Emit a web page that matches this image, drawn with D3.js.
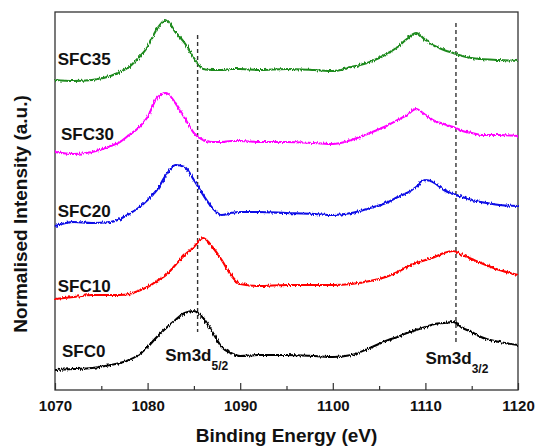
<!DOCTYPE html>
<html>
<head>
<meta charset="utf-8">
<script src="https://cdn.jsdelivr.net/npm/d3@7"></script>
<style>
  body { margin: 0; background: #fff; }
  svg text { font-family: Arial, "Liberation Sans", sans-serif; font-weight: bold; fill: #111; }
</style>
</head>
<body>
<svg width="536" height="446"></svg>
<script>
// binding energy (eV), shared by all spectra
const energy = [1070, 1072, 1074, 1076, 1077, 1078, 1079, 1080, 1081, 1082, 1083, 1084, 1085, 1086, 1087, 1088, 1089, 1090, 1092, 1095,
    1098, 1100, 1102, 1104, 1106, 1107, 1108, 1109, 1110, 1111, 1112, 1113, 1114, 1115, 1116, 1118, 1120];

// normalised intensity (a.u.), already stacked
const sfc0 = [0.20, 0.21, 0.22, 0.25, 0.27, 0.30, 0.35, 0.43, 0.53, 0.62, 0.70, 0.77, 0.79, 0.72, 0.58, 0.43, 0.37, 0.34, 0.35, 0.35,
    0.34, 0.33, 0.35, 0.42, 0.50, 0.53, 0.57, 0.60, 0.63, 0.66, 0.67, 0.68, 0.62, 0.58, 0.53, 0.48, 0.45];
const sfc10 = [0.91, 0.93, 0.95, 0.95, 0.95, 0.96, 0.99, 1.03, 1.09, 1.15, 1.25, 1.35, 1.43, 1.52, 1.43, 1.30, 1.15, 1.06, 1.04, 1.05,
    1.05, 1.05, 1.06, 1.09, 1.14, 1.18, 1.23, 1.27, 1.30, 1.33, 1.37, 1.39, 1.35, 1.31, 1.27, 1.20, 1.15];
const sfc20 = [1.64, 1.68, 1.67, 1.68, 1.71, 1.76, 1.82, 1.90, 2.00, 2.15, 2.25, 2.23, 2.10, 1.95, 1.82, 1.75, 1.77, 1.78, 1.78, 1.77,
    1.76, 1.75, 1.77, 1.82, 1.88, 1.93, 1.97, 2.03, 2.10, 2.07, 2.00, 1.96, 1.93, 1.90, 1.88, 1.85, 1.84];
const sfc30 = [2.38, 2.36, 2.38, 2.44, 2.48, 2.55, 2.62, 2.73, 2.92, 2.97, 2.87, 2.72, 2.57, 2.50, 2.48, 2.48, 2.49, 2.49, 2.48, 2.48,
    2.47, 2.46, 2.50, 2.57, 2.65, 2.70, 2.75, 2.81, 2.75, 2.69, 2.66, 2.63, 2.59, 2.57, 2.55, 2.55, 2.54];
const sfc35 = [3.10, 3.09, 3.10, 3.14, 3.18, 3.23, 3.32, 3.43, 3.61, 3.70, 3.58, 3.47, 3.32, 3.21, 3.20, 3.20, 3.21, 3.21, 3.20, 3.21,
    3.20, 3.19, 3.23, 3.28, 3.37, 3.43, 3.51, 3.57, 3.50, 3.44, 3.40, 3.37, 3.34, 3.32, 3.31, 3.30, 3.29];

const samples = ['SFC0', 'SFC10', 'SFC20', 'SFC30', 'SFC35'];
const spectra = [sfc0, sfc10, sfc20, sfc30, sfc35];
const colors = ['#000000', '#ff0000', '#0a0ae6', '#ff00ff', '#1f8a1f'];

const majorTicks = [1070, 1080, 1090, 1100, 1110, 1120];
const minorTicks = [1075, 1085, 1095, 1105, 1115];

// Sm3d peak guides: energy, top and bottom intensity
const peakEnergy = [1085.4, 1113.3];
const peakTop = [3.55, 3.67];
const peakBottom = [0.58, 0.48];
const peakNames = ['5/2', '3/2'];

const margin = { top: 12, right: 18, bottom: 56, left: 55 };
const width = 536 - margin.left - margin.right;
const height = 446 - margin.top - margin.bottom;

const svg = d3.select('svg');

// measurement noise look (rendering filter only, data stays as read)
const noise = svg.append('defs').append('filter')
    .attr('id', 'noisy')
    .attr('x', '-2%').attr('y', '-20%')
    .attr('width', '104%').attr('height', '140%');
noise.append('feTurbulence')
    .attr('type', 'fractalNoise')
    .attr('baseFrequency', '0.9 0.15')
    .attr('numOctaves', 2)
    .attr('seed', 3)
    .attr('result', 't');
noise.append('feDisplacementMap')
    .attr('in', 'SourceGraphic')
    .attr('in2', 't')
    .attr('scale', 3.5)
    .attr('xChannelSelector', 'R')
    .attr('yChannelSelector', 'G');

const chart = svg.append('g')
    .attr('transform', `translate(${margin.left}, ${margin.top})`);

const xScale = d3.scaleLinear()
    .domain([1070, 1120])
    .range([0, width]);

const yScale = d3.scaleLinear()
    .domain([0, 3.78])
    .range([height, 0]);

// ---------------- axes ----------------
const xAxis = chart.append('g')
    .attr('transform', `translate(0, ${height})`)
    .call(d3.axisBottom(xScale).tickValues(majorTicks).tickFormat(d3.format('d'))
        .tickSize(-7).tickPadding(10));
xAxis.select('.domain').remove();
xAxis.selectAll('line').attr('stroke', '#333').attr('stroke-width', 1.2);
xAxis.selectAll('text').style('font-size', '15px').attr('fill', '#111');

const xMinor = chart.append('g')
    .attr('transform', `translate(0, ${height})`)
    .call(d3.axisBottom(xScale).tickValues(minorTicks).tickFormat('').tickSize(-4));
xMinor.select('.domain').remove();
xMinor.selectAll('line').attr('stroke', '#333').attr('stroke-width', 1.2);

chart.append('rect')
    .attr('width', width)
    .attr('height', height)
    .attr('fill', 'none')
    .attr('stroke', '#333')
    .attr('stroke-width', 1.3);

svg.append('text')
    .attr('x', margin.left + width / 2)
    .attr('y', 442)
    .attr('text-anchor', 'middle')
    .style('font-size', '19px')
    .text('Binding Energy (eV)');

svg.append('text')
    .attr('transform', `translate(27, ${margin.top + 202}) rotate(-90)`)
    .attr('text-anchor', 'middle')
    .style('font-size', '19px')
    .text('Normalised Intensity (a.u.)');

// ---------------- guides ----------------
chart.selectAll('.peak')
    .data(peakEnergy)
    .enter().append('line')
    .attr('class', 'peak')
    .attr('x1', (d) => xScale(d))
    .attr('x2', (d) => xScale(d))
    .attr('y1', (d, i) => yScale(peakTop[i]))
    .attr('y2', (d, i) => yScale(peakBottom[i]))
    .attr('stroke', '#333')
    .attr('stroke-width', 1.4)
    .attr('stroke-dasharray', '4,3');

// ---------------- spectra ----------------
const line = d3.line()
    .x((d, i) => xScale(energy[i]))
    .y((d) => yScale(d))
    .curve(d3.curveMonotoneX);

chart.append('g')
    .attr('filter', 'url(#noisy)')
    .selectAll('.spectrum')
    .data(spectra)
    .enter().append('path')
    .attr('class', 'spectrum')
    .attr('d', line)
    .attr('fill', 'none')
    .attr('stroke', (d, i) => colors[i])
    .attr('stroke-width', 2.1);

// sample labels: [x energy, y intensity] of baseline start
const labelAt = [[1070.75, 0.33], [1070.3, 0.98], [1070.3, 1.73], [1070.65, 2.50], [1070.3, 3.25]];
chart.selectAll('.sample')
    .data(samples)
    .enter().append('text')
    .attr('class', 'sample')
    .attr('x', (d, i) => xScale(labelAt[i][0]))
    .attr('y', (d, i) => yScale(labelAt[i][1]))
    .style('font-size', '17px')
    .text((d) => d);

// Sm3d labels
const peakLabelAt = [[1081.9, 0.29], [1110.0, 0.26]];
const peakLabel = chart.selectAll('.peak-label')
    .data(peakNames)
    .enter().append('text')
    .attr('class', 'peak-label')
    .attr('x', (d, i) => xScale(peakLabelAt[i][0]))
    .attr('y', (d, i) => yScale(peakLabelAt[i][1]))
    .style('font-size', '17px');
peakLabel.append('tspan').text('Sm3d');
peakLabel.append('tspan')
    .attr('dy', 9)
    .style('font-size', '12px')
    .text((d) => d);
</script>
</body>
</html>
